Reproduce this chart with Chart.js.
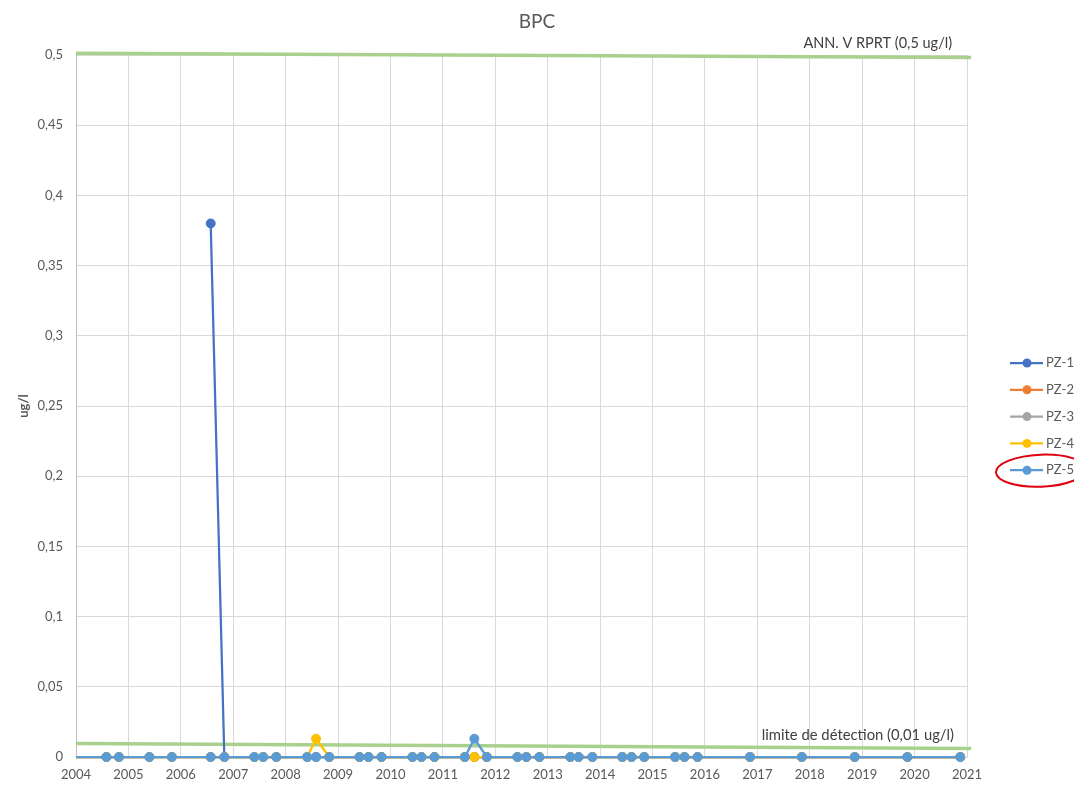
<!DOCTYPE html>
<html lang="fr">
<head>
<meta charset="UTF-8">
<title>BPC</title>
<style>
  body { margin: 0; background: #fff; }
  .container { width: 1074px; height: 788px; position: relative; }
</style>
<script src="https://cdn.jsdelivr.net/npm/chart.js@4.4.1/dist/chart.umd.min.js"></script>
</head>
<body>
<div class="container"><canvas id="myChart"></canvas></div>
<script>
// dates des prélèvements (années décimales)
const dates = [
  2003.80, 2004.58, 2004.82, 2005.40, 2005.83, 2006.57, 2006.83, 2007.40, 2007.57, 2007.82,
  2008.41, 2008.58, 2008.83, 2009.41, 2009.58, 2009.83, 2010.42, 2010.59, 2010.84, 2011.42,
  2011.60, 2011.84, 2012.42, 2012.59, 2012.84, 2013.43, 2013.59, 2013.85, 2014.42, 2014.60,
  2014.84, 2015.43, 2015.61, 2015.86, 2016.86, 2017.85, 2018.86, 2019.86, 2020.87
];

// concentrations en ug/l (null = pas de mesure)
const pz1 = [
  null, null, null, null, null, 0.38, 0, 0, 0, 0,
  0, 0, 0, 0, 0, 0, 0, 0, 0, 0,
  0, 0, 0, 0, 0, 0, 0, 0, 0, 0,
  0, 0, 0, 0, 0, 0, 0, 0, 0
];
const pz2 = [
  0, 0, 0, 0, 0, 0, 0, 0, 0, 0,
  0, 0, 0, 0, 0, 0, 0, 0, 0, 0,
  0, 0, 0, 0, 0, 0, 0, 0, 0, 0,
  0, 0, 0, 0, 0, 0, 0, 0, 0
];
const pz3 = [
  0, 0, 0, 0, 0, 0, 0, 0, 0, 0,
  0, 0, 0, 0, 0, 0, 0, 0, 0, 0,
  0, 0, 0, 0, 0, 0, 0, 0, 0, 0,
  0, 0, 0, 0, 0, 0, 0, 0, 0
];
const pz4 = [
  0, 0, 0, 0, 0, 0, 0, 0, 0, 0,
  0, 0.013, 0, 0, 0, 0, 0, 0, 0, 0,
  0, 0, 0, 0, 0, 0, 0, 0, 0, 0,
  0, 0, 0, 0, 0, 0, 0, 0, 0
];
const pz5 = [
  0, 0, 0, 0, 0, 0, 0, 0, 0, 0,
  0, 0, 0, 0, 0, 0, 0, 0, 0, 0,
  0.013, 0, 0, 0, 0, 0, 0, 0, 0, 0,
  0, 0, 0, 0, 0, 0, 0, 0, 0
];

const seriesNames = ['PZ-1', 'PZ-2', 'PZ-3', 'PZ-4', 'PZ-5'];
const seriesValues = [pz1, pz2, pz3, pz4, pz5];
const seriesColors = ['#4472C4', '#ED7D31', '#A5A5A5', '#FFC000', '#5B9BD5'];

// lignes de seuil (tracées à la main dans l'original, légèrement inclinées)
const seuilX = [2004, 2021.08];
const seuilAnnV = [0.5012, 0.4982];
const seuilDetection = [0.0097, 0.0061];

const toPoints = (xs, ys) => xs.map((x, i) => ({ x: x, y: ys[i] }));

const datasets = seriesNames.map((name, i) => ({
  label: name,
  data: toPoints(dates, seriesValues[i]),
  borderColor: seriesColors[i],
  backgroundColor: seriesColors[i],
  borderWidth: 2.25,
  pointRadius: 4.5,
  pointBorderWidth: 1,
  order: 5 - i, // PZ-5 au-dessus
  clip: { left: 0, right: false, top: false, bottom: false },
  isSeries: true,
}));

[seuilAnnV, seuilDetection].forEach(vals => {
  datasets.push({
    label: '',
    data: toPoints(seuilX, vals),
    borderColor: '#A9D18E',
    borderWidth: 3.5,
    pointRadius: 0,
    order: 10,
    clip: false,
  });
});

// titre centré sur la page, légende, étiquettes des seuils, cercle rouge
const extras = {
  id: 'extras',
  afterDraw(chart) {
    const ctx = chart.ctx;
    const { x, y } = chart.scales;
    ctx.save();
    ctx.textBaseline = 'middle';

    ctx.textAlign = 'center';
    ctx.fillStyle = '#595959';
    ctx.font = '19px Lato';
    ctx.fillText('BPC', chart.width / 2, 22);

    ctx.fillStyle = '#404040';
    ctx.textAlign = 'right';
    ctx.font = '14.5px Lato';
    ctx.fillText('ANN. V RPRT (0,5 ug/l)', x.right - 15, y.getPixelForValue(0.5) - 12);
    ctx.font = '14.8px Lato';
    ctx.fillText('limite de détection (0,01 ug/l)', x.right - 13, y.getPixelForValue(0.01) - 8);

    const lx = chart.chartArea.right + 43;
    const ly = 363;
    ctx.textAlign = 'left';
    ctx.font = '13px Lato';
    chart.data.datasets.filter(d => d.isSeries).forEach((d, i) => {
      const yy = ly + i * 26.8;
      ctx.strokeStyle = d.borderColor;
      ctx.lineWidth = 2.25;
      ctx.beginPath();
      ctx.moveTo(lx, yy);
      ctx.lineTo(lx + 33, yy);
      ctx.stroke();
      ctx.fillStyle = d.borderColor;
      ctx.beginPath();
      ctx.arc(lx + 17, yy, 4.5, 0, Math.PI * 2);
      ctx.fill();
      ctx.fillStyle = '#595959';
      ctx.fillText(d.label, lx + 36, yy);
    });

    // entourage rouge autour de PZ-5
    const ry = ly + 4 * 26.8;
    ctx.strokeStyle = '#E0000F';
    ctx.lineWidth = 2;
    ctx.beginPath();
    ctx.ellipse(lx + 31, ry + 0.5, 45, 16, -0.04, 0, Math.PI * 2);
    ctx.stroke();
    ctx.restore();
  }
};

const ctx = document.getElementById('myChart').getContext('2d');
new Chart(ctx, {
  type: 'line',
  data: { datasets: datasets },
  options: {
    responsive: true,
    maintainAspectRatio: false,
    animation: false,
    layout: { padding: { right: 107, left: 0, top: 55, bottom: 0 } },
    plugins: {
      legend: { display: false },
      tooltip: { enabled: false },
      title: { display: false },
    },
    scales: {
      x: {
        type: 'linear',
        min: 2004,
        max: 2021,
        afterFit: s => { s.height = 31; },
        ticks: {
          stepSize: 1,
          padding: 10,
          color: '#595959',
          font: { family: 'Lato', size: 13 },
          callback: v => String(v),
          maxRotation: 0,
        },
        grid: { color: '#D9D9D9', drawTicks: false },
        border: { color: '#D9D9D9' },
      },
      y: {
        min: 0,
        max: 0.5,
        afterFit: s => { s.width = 76; },
        ticks: {
          stepSize: 0.05,
          padding: 13,
          color: '#595959',
          font: { family: 'Lato', size: 13 },
          callback: v => String(Math.round(v * 100) / 100).replace('.', ','),
        },
        grid: { color: '#D9D9D9', drawTicks: false },
        border: { color: '#BFBFBF' },
        title: {
          display: true,
          text: 'ug/l',
          color: '#595959',
          font: { family: 'Lato', size: 13, weight: 'bold' },
          padding: { top: 16, bottom: 0 },
        },
      },
    },
  },
  plugins: [extras],
});
</script>
</body>
</html>
